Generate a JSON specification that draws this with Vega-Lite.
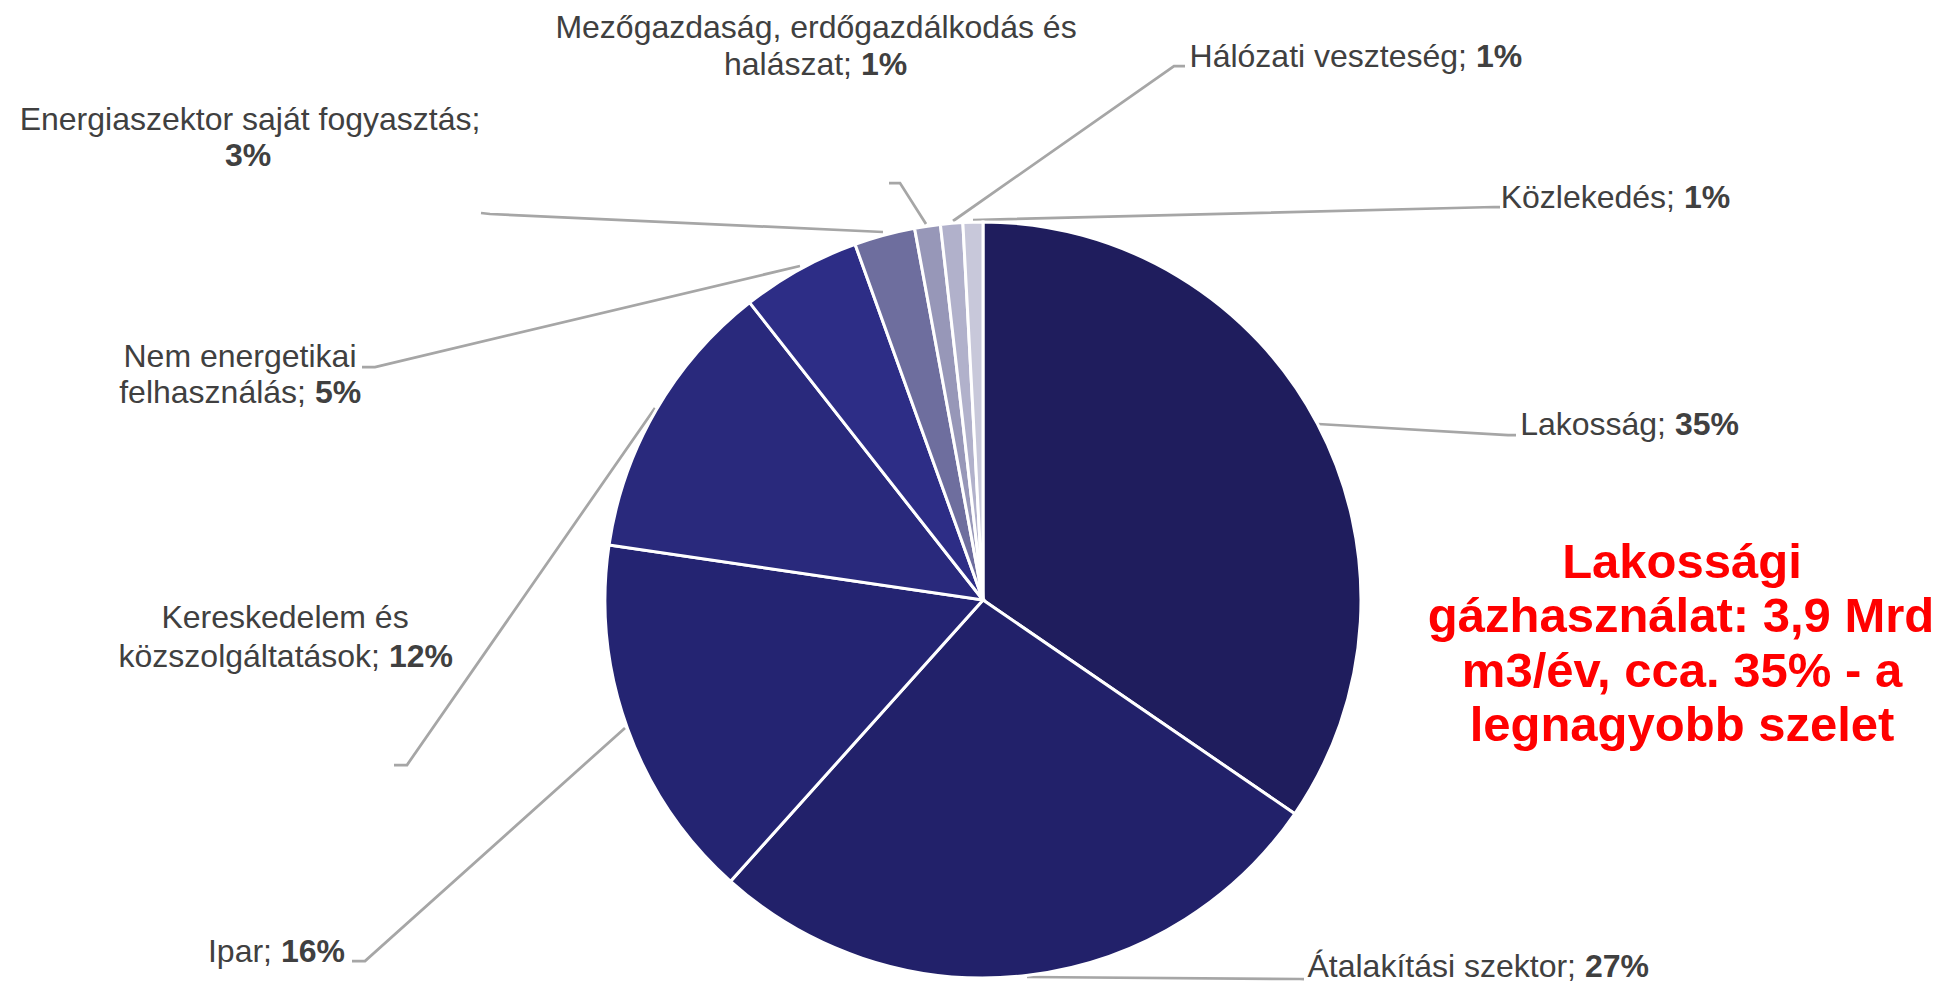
{
  "$schema": "https://vega.github.io/schema/vega-lite/v6.json",
  "width": 1946,
  "height": 983,
  "padding": 0,
  "autosize": {"type": "none"},
  "background": "white",
  "config": {"view": {"stroke": null}, "text": {"font": "Liberation Sans"}},
  "datasets": {
    "slices": [
      {"sector": "Lakosság", "value": 34.6, "k": 1},
      {"sector": "Átalakítási szektor", "value": 27.1, "k": 2},
      {"sector": "Ipar", "value": 15.7, "k": 3},
      {"sector": "Kereskedelem és közszolgáltatások", "value": 12.1, "k": 4},
      {"sector": "Nem energetikai felhasználás", "value": 5.1, "k": 5},
      {"sector": "Energiaszektor saját fogyasztás", "value": 2.6, "k": 6},
      {"sector": "Mezőgazdaság, erdőgazdálkodás és halászat", "value": 1.1, "k": 7},
      {"sector": "Hálózati veszteség", "value": 0.95, "k": 8},
      {"sector": "Közlekedés", "value": 0.85, "k": 9}
    ],
    "leaders": [
      {"id": "Lakosság", "i": 0, "lx": 1318, "ly": 424},
      {"id": "Lakosság", "i": 1, "lx": 1508, "ly": 435},
      {"id": "Lakosság", "i": 2, "lx": 1516, "ly": 435},
      {"id": "Átalakítási", "i": 0, "lx": 1027, "ly": 977},
      {"id": "Átalakítási", "i": 1, "lx": 1300, "ly": 979},
      {"id": "Átalakítási", "i": 2, "lx": 1304, "ly": 979},
      {"id": "Ipar", "i": 0, "lx": 625, "ly": 728},
      {"id": "Ipar", "i": 1, "lx": 365, "ly": 961},
      {"id": "Ipar", "i": 2, "lx": 352, "ly": 961},
      {"id": "Kereskedelem", "i": 0, "lx": 655, "ly": 408},
      {"id": "Kereskedelem", "i": 1, "lx": 407, "ly": 765},
      {"id": "Kereskedelem", "i": 2, "lx": 394, "ly": 765},
      {"id": "Nem", "i": 0, "lx": 800, "ly": 266},
      {"id": "Nem", "i": 1, "lx": 375, "ly": 367},
      {"id": "Nem", "i": 2, "lx": 362, "ly": 367},
      {"id": "Energia", "i": 0, "lx": 883, "ly": 232},
      {"id": "Energia", "i": 1, "lx": 490, "ly": 214},
      {"id": "Energia", "i": 2, "lx": 481, "ly": 213},
      {"id": "Mezo", "i": 0, "lx": 926, "ly": 224},
      {"id": "Mezo", "i": 1, "lx": 900, "ly": 183},
      {"id": "Mezo", "i": 2, "lx": 889, "ly": 183},
      {"id": "Halo", "i": 0, "lx": 953, "ly": 221},
      {"id": "Halo", "i": 1, "lx": 1174, "ly": 66},
      {"id": "Halo", "i": 2, "lx": 1185, "ly": 66},
      {"id": "Kozl", "i": 0, "lx": 973, "ly": 220},
      {"id": "Kozl", "i": 1, "lx": 1494, "ly": 207},
      {"id": "Kozl", "i": 2, "lx": 1500, "ly": 207}
    ],
    "names": [
      {"t": "Lakosság;", "tx": 1666, "ty": 435},
      {"t": "Átalakítási szektor;", "tx": 1576, "ty": 977},
      {"t": "Ipar;", "tx": 272, "ty": 962},
      {"t": "közszolgáltatások;", "tx": 380, "ty": 667},
      {"t": "felhasználás;", "tx": 306, "ty": 403},
      {"t": "halászat;", "tx": 852, "ty": 75},
      {"t": "Hálózati veszteség;", "tx": 1467, "ty": 67},
      {"t": "Közlekedés;", "tx": 1675, "ty": 208}
    ],
    "pcts": [
      {"t": "35%", "tx": 1675, "ty": 435},
      {"t": "27%", "tx": 1585, "ty": 977},
      {"t": "16%", "tx": 281, "ty": 962},
      {"t": "12%", "tx": 389, "ty": 667},
      {"t": "5%", "tx": 315, "ty": 403},
      {"t": "3%", "tx": 225, "ty": 166},
      {"t": "1%", "tx": 861, "ty": 75},
      {"t": "1%", "tx": 1476, "ty": 67},
      {"t": "1%", "tx": 1684, "ty": 208}
    ],
    "heads": [
      {"t": "Kereskedelem és", "tx": 285, "ty": 628},
      {"t": "Nem energetikai", "tx": 240, "ty": 367},
      {"t": "Energiaszektor saját fogyasztás;", "tx": 250, "ty": 130},
      {"t": "Mezőgazdaság, erdőgazdálkodás és", "tx": 816, "ty": 38}
    ],
    "note": [
      {"t": "Lakossági", "tx": 1682, "ty": 578},
      {"t": "gázhasználat: 3,9 Mrd", "tx": 1681, "ty": 632},
      {"t": "m3/év, cca. 35% - a", "tx": 1682, "ty": 687},
      {"t": "legnagyobb szelet", "tx": 1682, "ty": 741}
    ]
  },
  "layer": [
    {
      "data": {"name": "leaders"},
      "mark": {"type": "line", "color": "#A6A6A6", "strokeWidth": 2.75, "strokeJoin": "miter"},
      "encoding": {
        "x": {"field": "lx", "type": "quantitative", "scale": {"domain": [0, 1946], "nice": false, "zero": false}, "axis": null},
        "y": {"field": "ly", "type": "quantitative", "scale": {"domain": [0, 983], "nice": false, "zero": false, "reverse": true}, "axis": null},
        "detail": {"field": "id"},
        "order": {"field": "i", "type": "quantitative"}
      }
    },
    {
      "data": {"name": "slices"},
      "mark": {"type": "arc", "outerRadius": 378, "stroke": "white", "strokeWidth": 3},
      "encoding": {
        "x": {"datum": 983, "type": "quantitative", "scale": {"domain": [0, 1946], "nice": false, "zero": false}, "axis": null},
        "y": {"datum": 600, "type": "quantitative", "scale": {"domain": [0, 983], "nice": false, "zero": false, "reverse": true}, "axis": null},
        "theta": {"field": "value", "type": "quantitative", "stack": true},
        "order": {"field": "k", "type": "quantitative"},
        "color": {
          "field": "sector", "type": "nominal", "legend": null,
          "scale": {
            "domain": ["Lakosság", "Átalakítási szektor", "Ipar", "Kereskedelem és közszolgáltatások", "Nem energetikai felhasználás", "Energiaszektor saját fogyasztás", "Mezőgazdaság, erdőgazdálkodás és halászat", "Hálózati veszteség", "Közlekedés"],
            "range": ["#1F1D5D", "#22216A", "#242472", "#29297C", "#2D2D86", "#6E6E9E", "#9797B8", "#B1B1CB", "#C8C8DA"]
          }
        }
      }
    },
    {
      "data": {"name": "names"},
      "mark": {"type": "text", "align": "right", "baseline": "alphabetic", "fontSize": 32, "color": "#404040", "font": "Liberation Sans"},
      "encoding": {
        "x": {"field": "tx", "type": "quantitative", "scale": {"domain": [0, 1946], "nice": false, "zero": false}, "axis": null},
        "y": {"field": "ty", "type": "quantitative", "scale": {"domain": [0, 983], "nice": false, "zero": false, "reverse": true}, "axis": null},
        "text": {"field": "t"}
      }
    },
    {
      "data": {"name": "pcts"},
      "mark": {"type": "text", "align": "left", "baseline": "alphabetic", "fontSize": 32, "fontWeight": "bold", "color": "#404040", "font": "Liberation Sans"},
      "encoding": {
        "x": {"field": "tx", "type": "quantitative", "scale": {"domain": [0, 1946], "nice": false, "zero": false}, "axis": null},
        "y": {"field": "ty", "type": "quantitative", "scale": {"domain": [0, 983], "nice": false, "zero": false, "reverse": true}, "axis": null},
        "text": {"field": "t"}
      }
    },
    {
      "data": {"name": "heads"},
      "mark": {"type": "text", "align": "center", "baseline": "alphabetic", "fontSize": 32, "color": "#404040", "font": "Liberation Sans"},
      "encoding": {
        "x": {"field": "tx", "type": "quantitative", "scale": {"domain": [0, 1946], "nice": false, "zero": false}, "axis": null},
        "y": {"field": "ty", "type": "quantitative", "scale": {"domain": [0, 983], "nice": false, "zero": false, "reverse": true}, "axis": null},
        "text": {"field": "t"}
      }
    },
    {
      "data": {"name": "note"},
      "mark": {"type": "text", "align": "center", "baseline": "alphabetic", "fontSize": 49, "fontWeight": "bold", "color": "#FF0000", "font": "Liberation Sans"},
      "encoding": {
        "x": {"field": "tx", "type": "quantitative", "scale": {"domain": [0, 1946], "nice": false, "zero": false}, "axis": null},
        "y": {"field": "ty", "type": "quantitative", "scale": {"domain": [0, 983], "nice": false, "zero": false, "reverse": true}, "axis": null},
        "text": {"field": "t"}
      }
    }
  ]
}
